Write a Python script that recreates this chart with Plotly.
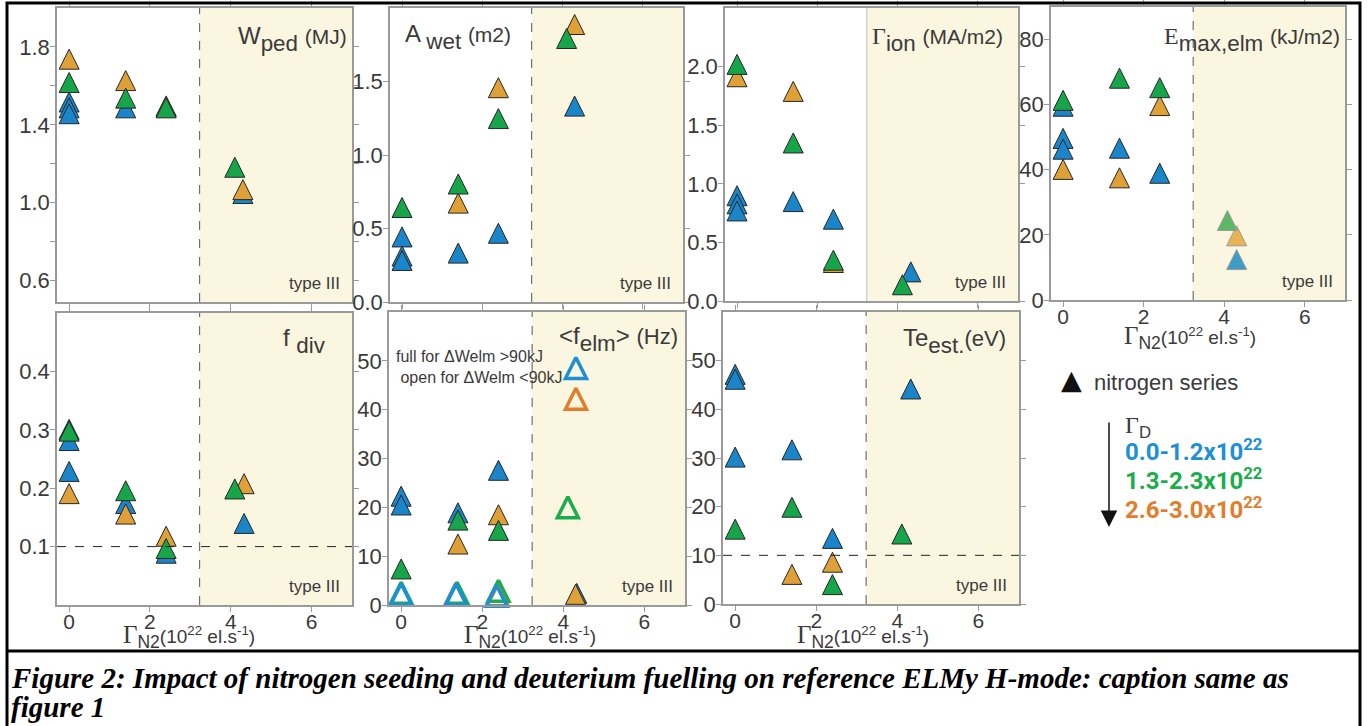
import plotly.graph_objects as go

W, H = 1370, 726
FIG_H = 739  # rendered page is compressed vertically to the 726-px window

# ---------------- data ----------------
# x = nitrogen seeding rate Γ_N2 (1e22 el/s); colour groups = deuterium fuelling
wped_blue_x = [0, 0, 0, 1.4, 2.4, 4.3]
wped_blue_y = [1.50, 1.47, 1.44, 1.47, 1.475, 1.03]
wped_orange_x = [0, 1.4, 2.4, 4.3]
wped_orange_y = [1.72, 1.61, 1.48, 1.05]
wped_green_x = [0, 1.4, 2.4, 4.1]
wped_green_y = [1.60, 1.52, 1.47, 1.165]

awet_blue_x = [0, 0, 0, 1.4, 2.4, 4.3]
awet_blue_y = [0.42, 0.29, 0.26, 0.31, 0.445, 1.31]
awet_orange_x = [1.4, 2.4, 4.3]
awet_orange_y = [0.65, 1.435, 1.865]
awet_green_x = [0, 1.4, 2.4, 4.1]
awet_green_y = [0.62, 0.78, 1.225, 1.77]

gion_blue_x = [0, 0, 0, 1.4, 2.4, 4.33]
gion_blue_y = [0.87, 0.80, 0.74, 0.82, 0.67, 0.22]
gion_orange_x = [0, 1.4, 2.4]
gion_orange_y = [1.885, 1.76, 0.30]
gion_green_x = [0, 1.4, 2.4, 4.12]
gion_green_y = [1.99, 1.32, 0.32, 0.11]

emax_blue_x = [0, 0, 0, 1.4, 2.4]
emax_blue_y = [58.5, 48.6, 45.3, 45.6, 37.9]
emax_orange_x = [0, 1.4, 2.4]
emax_orange_y = [39.1, 36.5, 58.7]
emax_green_x = [0, 1.4, 2.4]
emax_green_y = [60.3, 67.1, 64.2]
emax_t3_blue_x = [4.31]
emax_t3_blue_y = [11.4]
emax_t3_orange_x = [4.31]
emax_t3_orange_y = [18.7]
emax_t3_green_x = [4.08]
emax_t3_green_y = [23.4]

fdiv_blue_x = [0, 0, 0, 1.4, 2.4, 4.33]
fdiv_blue_y = [0.295, 0.276, 0.223, 0.168, 0.083, 0.134]
fdiv_orange_x = [0, 1.4, 2.4, 4.33]
fdiv_orange_y = [0.185, 0.150, 0.112, 0.202]
fdiv_green_x = [0, 1.4, 2.4, 4.1]
fdiv_green_y = [0.292, 0.190, 0.091, 0.193]

felm_blue_x = [0, 0, 1.4, 2.4, 4.33]
felm_blue_y = [21.6, 19.8, 18.2, 26.9, 1.7]
felm_orange_x = [1.4, 2.4, 4.3]
felm_orange_y = [11.8, 17.8, 1.5]
felm_green_x = [0, 1.4, 2.4]
felm_green_y = [6.7, 16.7, 14.6]
felm_open_blue_x = [0, 1.35, 2.35, 4.31]
felm_open_blue_y = [1.5, 1.5, 1.2, 47.8]
felm_open_orange_x = [1.35, 2.38, 4.31]
felm_open_orange_y = [1.6, 1.3, 41.5]
felm_open_green_x = [0, 1.38, 2.4, 4.11]
felm_open_green_y = [1.8, 1.8, 2.2, 19.3]

te_blue_x = [0, 0, 0, 1.4, 2.4, 4.33]
te_blue_y = [46.5, 45.5, 29.5, 31.0, 12.8, 43.5]
te_orange_x = [1.4, 2.4]
te_orange_y = [5.4, 7.9]
te_green_x = [0, 1.4, 2.4, 4.11]
te_green_y = [14.7, 19.2, 3.3, 13.7]

x_ticks = [0, 2, 4, 6]
type3_start = 3.23
fdiv_limit = 0.1
te_limit = 10

legend_groups = ["0.0-1.2x10<sup>22</sup>", "1.3-2.3x10<sup>22</sup>", "2.6-3.0x10<sup>22</sup>"]

# ---------------- styles ----------------
BLUE, GREEN, ORANGE = "#1a86c9", "#17a54a", "#dfa037"
OPEN_BLUE, OPEN_GREEN, OPEN_ORANGE = "#1d8fd8", "#19ae4b", "#e27d2c"
T3_BLUE, T3_GREEN, T3_ORANGE = "#3d9dc6", "#5cb866", "#e8b552"
SHADE = "#faf6e0"
AXC = "#9a9a9a"
TXT = "#3a3a3a"
SANS = "Liberation Sans, Arial, sans-serif"
SERIF = "Liberation Serif"
MS = 20


def fx(p):
    return p / W


def fy(p):
    return 1 - p / H


fig = go.Figure()

# panel boxes in pixels: left, right, top, bottom
panels = [
    dict(box=(57, 352, 8, 302), yr=[0.49, 2.0],
         tv=[0.6, 0.8, 1.0, 1.2, 1.4, 1.6, 1.8], tt=["0.6", " ", "1.0", " ", "1.4", " ", "1.8"], xl=False),
    dict(box=(390, 683, 8, 302), yr=[0, 2.0],
         tv=[0, 0.5, 1.0, 1.5], tt=["0.0", "0.5", "1.0", "1.5"], xl=False),
    dict(box=(725, 1018, 8, 301), yr=[0, 2.5],
         tv=[0, 0.5, 1.0, 1.5, 2.0], tt=["0.0", "0.5", "1.0", "1.5", "2.0"], xl=False),
    dict(box=(1051, 1345, 7, 300), yr=[0, 90],
         tv=[0, 20, 40, 60, 80], tt=["0", "20", "40", "60", "80"], xl=True),
    dict(box=(57, 352, 313, 605), yr=[0, 0.5],
         tv=[0.1, 0.2, 0.3, 0.4], tt=["0.1", "0.2", "0.3", "0.4"], xl=True),
    dict(box=(389, 685, 312, 605), yr=[0, 60],
         tv=[0, 10, 20, 30, 40, 50], tt=["0", "10", "20", "30", "40", "50"], xl=True),
    dict(box=(723, 1019, 312, 604), yr=[0, 60],
         tv=[0, 10, 20, 30, 40, 50], tt=["0", "10", "20", "30", "40", "50"], xl=True),
]

series = [
    [(wped_blue_x, wped_blue_y, BLUE), (wped_orange_x, wped_orange_y, ORANGE), (wped_green_x, wped_green_y, GREEN)],
    [(awet_blue_x, awet_blue_y, BLUE), (awet_orange_x, awet_orange_y, ORANGE), (awet_green_x, awet_green_y, GREEN)],
    [(gion_blue_x, gion_blue_y, BLUE), (gion_orange_x, gion_orange_y, ORANGE), (gion_green_x, gion_green_y, GREEN)],
    [(emax_blue_x, emax_blue_y, BLUE), (emax_orange_x, emax_orange_y, ORANGE), (emax_green_x, emax_green_y, GREEN)],
    [(fdiv_blue_x, fdiv_blue_y, BLUE), (fdiv_orange_x, fdiv_orange_y, ORANGE), (fdiv_green_x, fdiv_green_y, GREEN)],
    [(felm_blue_x, felm_blue_y, BLUE), (felm_orange_x, felm_orange_y, ORANGE), (felm_green_x, felm_green_y, GREEN)],
    [(te_blue_x, te_blue_y, BLUE), (te_orange_x, te_orange_y, ORANGE), (te_green_x, te_green_y, GREEN)],
]


def tri(size, fill=True):
    # upward triangle (width = height = size) centred on its centroid
    return dict(symbol="arrow-down" if fill else "arrow-down-open", angle=180,
                standoff=2 * size / 3, size=size)


shapes = []
annotations = []

for i, p in enumerate(panels, start=1):
    l, r, t, b = p["box"]
    xa = "x" if i == 1 else f"x{i}"
    ya = "y" if i == 1 else f"y{i}"
    common = dict(showline=True, linecolor=AXC, linewidth=1.5, mirror="ticks",
                  ticks="outside", ticklen=5, tickwidth=1.2, tickcolor=AXC,
                  showgrid=False, zeroline=False)
    fig.update_layout(**{
        ("xaxis" if i == 1 else f"xaxis{i}"): dict(
            domain=[fx(l), fx(r)], anchor=ya, range=[-0.3, 7], tickvals=x_ticks,
            showticklabels=p["xl"], ticklabelstandoff=-8,
            tickfont=dict(family=SANS, size=21, color=TXT), **common),
        ("yaxis" if i == 1 else f"yaxis{i}"): dict(
            domain=[fy(b), fy(t)], anchor=xa, range=p["yr"], tickvals=p["tv"], ticktext=p["tt"],
            ticklabelstandoff=-4, tickfont=dict(family=SANS, size=22, color=TXT), **common),
    })
    # type III shaded region + boundary
    shapes.append(dict(type="rect", xref=xa, yref=f"{ya} domain", x0=type3_start, x1=7, y0=0, y1=1,
                       fillcolor=SHADE, line=dict(width=0), layer="below"))
    if i == 3:
        shapes.append(dict(type="line", xref=xa, yref=f"{ya} domain", x0=type3_start, x1=type3_start,
                           y0=0, y1=1, line=dict(color="#d2d2d2", width=1.5), layer="below"))
    else:
        shapes.append(dict(type="line", xref=xa, yref=f"{ya} domain", x0=type3_start, x1=type3_start,
                           y0=0, y1=1, line=dict(color="#555555", width=1, dash="dash")))
    for xs, ys, col in series[i - 1]:
        fig.add_trace(go.Scatter(x=xs, y=ys, mode="markers", xaxis=xa, yaxis=ya, cliponaxis=False,
                                 showlegend=False, hoverinfo="skip",
                                 marker=dict(color=col, line=dict(color="#262626", width=1), **tri(MS))))
    # "type III" label
    annotations.append(dict(text="type III", xref="paper", yref="paper", x=fx(r - 10), y=fy(b - 19),
                            xanchor="right", yanchor="middle", showarrow=False,
                            font=dict(family=SANS, size=17, color=TXT)))
    if i >= 4:
        cx = {4: 1190, 5: 189, 6: 530, 7: 863}[i]
        cy = 338 if i == 4 else 636
        annotations.append(dict(
            text=f'<span style="font-family:{SERIF};font-size:25px">Γ</span>'
                 '<span style="font-size:25px"><sub>N2</sub></span>(10<sup>22</sup> el.s<sup>-1</sup>)',
            xref="paper", yref="paper", x=fx(cx), y=fy(cy), xanchor="center", yanchor="middle",
            showarrow=False, font=dict(family=SANS, size=19, color=TXT)))

# type III Emax points (lighter)
for xs, ys, col in [(emax_t3_blue_x, emax_t3_blue_y, T3_BLUE), (emax_t3_orange_x, emax_t3_orange_y, T3_ORANGE),
                    (emax_t3_green_x, emax_t3_green_y, T3_GREEN)]:
    fig.add_trace(go.Scatter(x=xs, y=ys, mode="markers", xaxis="x4", yaxis="y4", cliponaxis=False,
                             showlegend=False, hoverinfo="skip",
                             marker=dict(color=col, line=dict(color="#9a9a9a", width=1), **tri(MS))))

# open <f_elm> points (ΔWelm < 90 kJ)
for xs, ys, col in [(felm_open_orange_x, felm_open_orange_y, OPEN_ORANGE),
                    (felm_open_green_x, felm_open_green_y, OPEN_GREEN),
                    (felm_open_blue_x, felm_open_blue_y, OPEN_BLUE)]:
    fig.add_trace(go.Scatter(x=xs, y=ys, mode="markers", xaxis="x6", yaxis="y6", cliponaxis=False,
                             showlegend=False, hoverinfo="skip",
                             marker=dict(color=col, line=dict(color=col, width=3.5), **tri(21, fill=False))))

# horizontal limits
shapes.append(dict(type="line", xref="x5 domain", yref="y5", x0=0, x1=1, y0=fdiv_limit, y1=fdiv_limit,
                   line=dict(color="#222222", width=1, dash="dash")))
shapes.append(dict(type="line", xref="x7 domain", yref="y7", x0=0, x1=1, y0=te_limit, y1=te_limit,
                   line=dict(color="#222222", width=1, dash="dash")))

# panel titles
TF = dict(family=SANS, size=24, color=TXT)
titles = [
    ('W<span style="font-size:32px"><sub>ped</sub></span> <span style="font-size:21px">(MJ)</span>', 349, 39, "right"),
    ('A <span style="font-size:32px"><sub>wet</sub></span> <span style="font-size:21px">(m2)</span>', 403, 37, "left"),
    (f'<span style="font-family:{SERIF}">Γ</span><span style="font-size:32px"><sub>ion</sub></span>'
     ' <span style="font-size:21px">(MA/m2)</span>', 1005, 39, "right"),
    (f'<span style="font-family:{SERIF}">E</span><span style="font-size:32px"><sub>max,elm</sub></span>'
     ' <span style="font-size:21px">(kJ/m2)</span>', 1342, 39, "right"),
    ('f <span style="font-size:32px"><sub>div</sub></span>', 328, 341, "right"),
    ('&lt;f<span style="font-size:32px"><sub>elm</sub></span>&gt; <span style="font-size:22px">(Hz)</span>',
     680, 339, "right"),
    ('Te<span style="font-size:32px"><sub>est.</sub></span><span style="font-size:22px">(eV)</span>',
     1008, 341, "right"),
]
for txt, x, y, anc in titles:
    annotations.append(dict(text=txt, xref="paper", yref="paper", x=fx(x), y=fy(y), xanchor=anc,
                            yanchor="middle", showarrow=False, font=TF))

# open/full note
annotations.append(dict(text="full for ΔWelm &gt;90kJ<br> open for ΔWelm &lt;90kJ", xref="paper", yref="paper",
                        x=fx(394), y=fy(367), xanchor="left", yanchor="middle", align="left",
                        showarrow=False, font=dict(family=SANS, size=16, color=TXT)))

# legend block
annotations.append(dict(text="▲", xref="paper", yref="paper", x=fx(1071), y=fy(380), xanchor="center",
                        yanchor="middle", showarrow=False, font=dict(family="DejaVu Sans", size=27, color="#111111")))
annotations.append(dict(text="nitrogen series", xref="paper", yref="paper", x=fx(1092), y=fy(382),
                        xanchor="left", yanchor="middle", showarrow=False,
                        font=dict(family=SANS, size=22, color=TXT)))
annotations.append(dict(text=f'<span style="font-family:{SERIF}">Γ</span><sub>D</sub>', xref="paper",
                        yref="paper", x=fx(1123), y=fy(427), xanchor="left", yanchor="middle",
                        showarrow=False, font=dict(family=SANS, size=24, color=TXT)))
for txt, col, y in zip(legend_groups, [OPEN_BLUE, OPEN_GREEN, OPEN_ORANGE], [450, 479, 508]):
    annotations.append(dict(text=f"<b>{txt}</b>", xref="paper", yref="paper", x=fx(1123), y=fy(y),
                            xanchor="left", yanchor="middle", showarrow=False,
                            font=dict(family="Roboto", size=24, color=col)))
annotations.append(dict(text="", xref="paper", yref="paper", x=fx(1109), y=fy(527), ax=0, ay=-106,
                        showarrow=True, arrowhead=2, arrowsize=2.2, arrowwidth=1.5, arrowcolor="#111111"))

# caption
CAP = dict(family="Liberation Serif", size=29, color="#000000")
annotations.append(dict(text="<b><i>Figure 2: Impact of nitrogen seeding and deuterium fuelling on reference "
                             "ELMy H-mode: caption same as</i></b>", xref="paper", yref="paper",
                        x=fx(9), y=fy(678), xanchor="left", yanchor="middle", showarrow=False, font=CAP))
annotations.append(dict(text="<b><i>figure 1</i></b>", xref="paper", yref="paper",
                        x=fx(9), y=fy(707), xanchor="left", yanchor="middle", showarrow=False, font=CAP))

# outer frame
shapes.append(dict(type="rect", xref="paper", yref="paper", x0=fx(7), x1=fx(1360), y0=fy(740), y1=fy(3),
                   line=dict(color="#000000", width=3)))
shapes.append(dict(type="line", xref="paper", yref="paper", x0=fx(7), x1=fx(1360), y0=fy(651), y1=fy(651),
                   line=dict(color="#000000", width=3)))

fig.update_layout(width=W, height=FIG_H, autosize=False, margin=dict(l=0, r=0, t=0, b=0),
                  paper_bgcolor="white", plot_bgcolor="white", shapes=shapes, annotations=annotations,
                  showlegend=False)

post = "document.body.style.margin='0';document.body.style.overflow='hidden';"
fig.write_html("out.html", config={"displayModeBar": False}, post_script=post)
